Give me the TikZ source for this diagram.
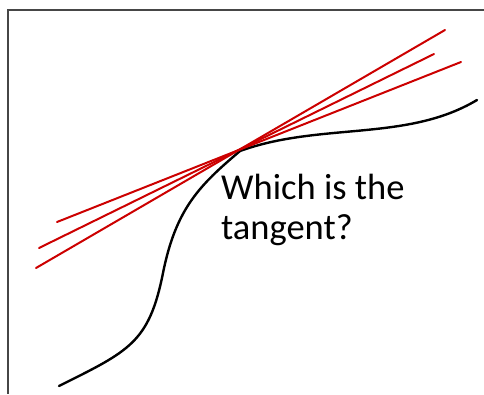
\documentclass[tikz,border=0pt]{standalone}
\usepackage{fontspec}
\setmainfont{Carlito}
\usepackage{tikz,xcolor}
\usetikzlibrary{calc}
\definecolor{guessred}{RGB}{204,0,0}
\definecolor{framegray}{RGB}{70,70,70}
\tikzset{
  % the curve and the candidate lines
  curve/.style={black, line width=2.4pt, line cap=round},
  guess/.style={guessred, line width=2pt, line cap=round},
  frame/.style={framegray, line width=2pt},
}

\begin{document}
\begin{tikzpicture}[x=1pt,y=-1pt]
\useasboundingbox (0,0) rectangle (484,394);
\draw[frame] (484,9.5) -- (8,9.5) -- (8,394);
% point where the candidates meet the curve
\coordinate (T) at (240,151);
 \draw[curve] (59,386) .. controls (129,351) and (149,343) .. (163,273)
   .. controls (176,208) and (200,185) .. (T)
   .. controls (320,122) and (407,142) .. (477,100);
% three candidate lines
\coordinate (a1) at (36,268);  \coordinate (a2) at (445,30);
\coordinate (b1) at (39,248);  \coordinate (b2) at (434,54);
\coordinate (c1) at (57,222);  \coordinate (c2) at (461,62);
  \draw[guess] (a1) -- (a2);
  \draw[guess] (b1) -- (b2);
  \draw[guess] (c1) -- (c2);
\node[anchor=north west, align=left, inner sep=0pt,
  font=\fontsize{36.5}{40}\selectfont] (question) at (221,174) {Which is the\\tangent?};
\end{tikzpicture}
\end{document}
